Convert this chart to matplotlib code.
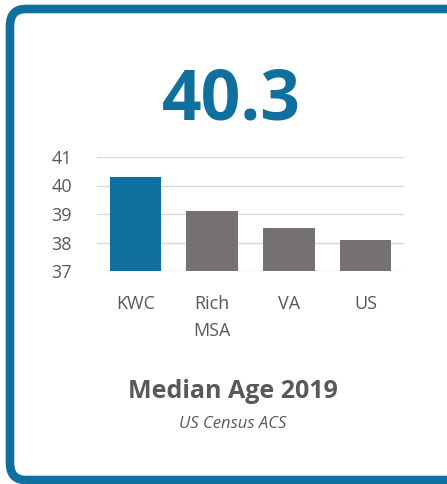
import matplotlib.pyplot as plt
from matplotlib.patches import FancyBboxPatch

categories = ["KWC", "Rich\nMSA", "VA", "US"]
median_age = [40.3, 39.1, 38.5, 38.1]
yticks = [37, 38, 39, 40, 41]
headline = "40.3"
title = "Median Age 2019"
source = "US Census ACS"

blue = "#0f6f9f"
gray = "#767171"
txt = "#595959"

plt.rcParams['font.family'] = ['Open Sans', 'DejaVu Sans']

fig = plt.figure(figsize=(4.47, 4.84), dpi=100)
W, H = 447, 484

# card border (right side runs off the image)
card = FancyBboxPatch((10 / W, 1 - 480 / H), (470 - 10) / W, (480 - 9) / H,
                      boxstyle="round,pad=0,rounding_size=0.035",
                      transform=fig.transFigure, fill=False,
                      edgecolor=blue, linewidth=6.2)
fig.patches.append(card)

ax = fig.add_axes([97 / W, 1 - 271 / H, 307 / W, 114 / H])
colors = [blue] + [gray] * (len(categories) - 1)
ax.bar(range(len(categories)), median_age, width=0.67, color=colors, zorder=3)
ax.set_ylim(37, 41)
ax.set_xlim(-0.5, len(categories) - 0.5)
ax.set_yticks(yticks)
ax.set_xticks(range(len(categories)))
ax.set_xticklabels(categories, linespacing=1.7)
ax.grid(axis="y", color="#d9d9d9", linewidth=1, zorder=0)
for s in ax.spines.values():
    s.set_visible(False)
ax.tick_params(length=0, labelsize=13, labelcolor=txt)
ax.tick_params(axis="y", pad=18)
ax.tick_params(axis="x", pad=17)

fig.text(231 / W, 1 - 101 / H, headline, ha="center", va="center",
         fontsize=50, fontweight="bold", color=blue)
fig.text(233 / W, 1 - 391 / H, title, ha="center", va="center",
         fontsize=18, fontweight="bold", color=txt)
fig.text(233 / W, 1 - 424 / H, source, ha="center", va="center",
         fontsize=12, style="italic", color=txt)

fig.savefig("out.png", dpi=100)
